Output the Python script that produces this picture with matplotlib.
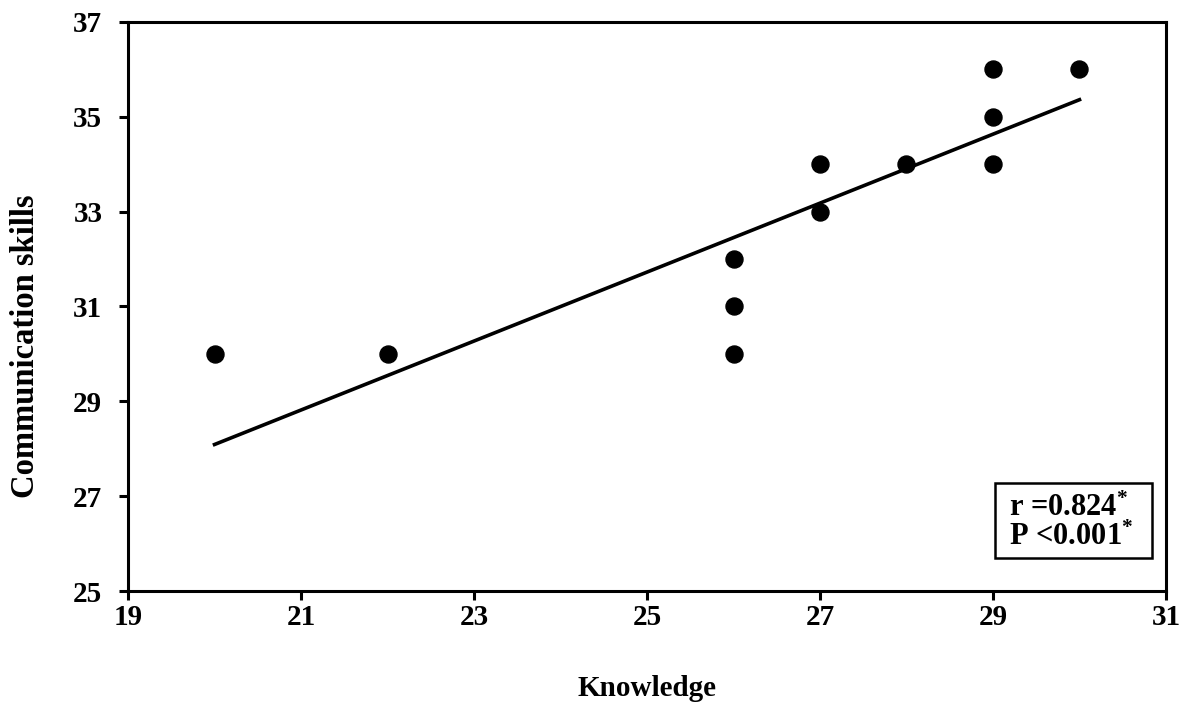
import matplotlib
matplotlib.use("Agg")
import matplotlib.pyplot as plt
import numpy as np
from matplotlib.patches import Rectangle

# knowledge vs communication skills scores
knowledge = [20, 22, 26, 26, 26, 27, 27, 28, 29, 29, 29, 30]
communication = [30, 30, 30, 31, 32, 33, 34, 34, 34, 35, 36, 36]

# regression line
fit_x = [20, 30]
fit_slope = 0.727
fit_intercept = 13.55

x_ticks = [19, 21, 23, 25, 27, 29, 31]
y_ticks = [25, 27, 29, 31, 33, 35, 37]

plt.rcParams["font.family"] = ["Liberation Serif", "DejaVu Serif"]
plt.rcParams["font.weight"] = "bold"
plt.rcParams["mathtext.fontset"] = "custom"
plt.rcParams["mathtext.rm"] = "Liberation Serif:bold"
plt.rcParams["mathtext.it"] = "Liberation Serif:bold"
plt.rcParams["mathtext.bf"] = "Liberation Serif:bold"
plt.rcParams["mathtext.default"] = "rm"

fig = plt.figure(figsize=(11.91, 7.07), dpi=100)
ax = fig.add_axes([0.1075, 0.164, 0.8715, 0.805])

ax.scatter(knowledge, communication, s=150, color="black", zorder=3)
_fx = np.array(fit_x)
ax.plot(_fx, fit_slope * _fx + fit_intercept, color="black", lw=2.6, zorder=2)

ax.set_xlim(19, 31)
ax.set_ylim(25, 37)
ax.set_xticks(x_ticks)
ax.set_yticks(y_ticks)
ax.tick_params(axis="both", direction="out", length=6.5, width=2.2, labelsize=21)
ax.tick_params(axis="x", pad=2.5)
ax.tick_params(axis="y", pad=12)
for lbl in ax.get_xticklabels() + ax.get_yticklabels():
    lbl.set_fontweight("bold")
for spine in ax.spines.values():
    spine.set_linewidth(2.2)

ax.set_xlabel("Knowledge", fontsize=21, fontweight="bold", labelpad=32)
ax.set_ylabel("Communication skills", fontsize=23.5, fontweight="bold")
ax.yaxis.set_label_coords(-0.0835, 0.43)

# stats box
ax.add_patch(Rectangle((0.8353, 0.058), 0.1512, 0.1318, transform=ax.transAxes,
                       facecolor="white", edgecolor="black", linewidth=1.8, zorder=4))
ax.text(0.909, 0.1195, "r =0.824$^{*}$\nP <0.001$^{*}$", transform=ax.transAxes,
        fontsize=22, fontweight="bold", ha="center", va="center",
        multialignment="left", linespacing=1.0, zorder=5)

fig.savefig("out.png", dpi=100)
